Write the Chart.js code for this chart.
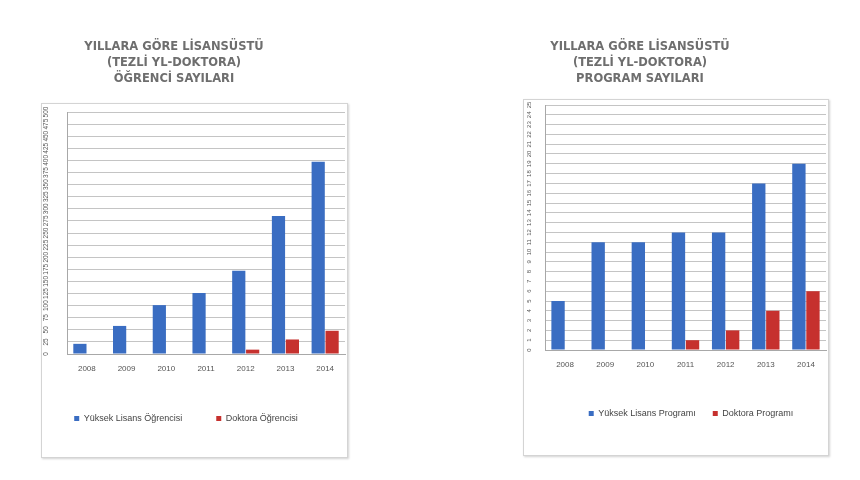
<!DOCTYPE html>
<html>
<head>
<meta charset="utf-8">
<script src="https://cdn.jsdelivr.net/npm/chart.js@4/dist/chart.umd.min.js"></script>
<style>
  body { margin: 0; background: #fff; width: 860px; height: 480px; position: relative; overflow: hidden; }
  .frame { position: absolute; border: 1px solid #d4d4d4; box-shadow: 1px 1px 2px rgba(0,0,0,.18); }
  .wrap { position: absolute; }
</style>
</head>
<body>
<div class="frame" style="left:41px;top:103px;width:305px;height:353px"></div>
<div class="frame" style="left:523px;top:99px;width:304px;height:355px"></div>
<div class="wrap" style="left:30px;top:30px;width:330px;height:440px"><canvas id="ogrenci"></canvas></div>
<div class="wrap" style="left:510px;top:30px;width:340px;height:440px"><canvas id="program"></canvas></div>
<script>
const years = ['2008', '2009', '2010', '2011', '2012', '2013', '2014'];

// öğrenci sayıları
const ogrenciYL = [21, 58, 101, 126, 172, 285, 397];
const ogrenciDr = [0, 0, 0, 0, 9, 30, 48];

// program sayıları
const programYL = [5, 11, 11, 12, 12, 17, 19];
const programDr = [0, 0, 0, 1, 2, 4, 6];

const blue = '#3a6dc2';
const red = '#c6312e';

// move title and legend so they sit where the original ones do
const boxShift = {
    id: 'boxShift',
    afterLayout(chart, args, opts) {
        [[chart.titleBlock, opts.title], [chart.legend, opts.legend]].forEach(([b, c]) => {
            if (!b || c == null) return;
            const d = c - (b.left + b.right) / 2;
            b.left += d;
            b.right += d;
        });
    }
};

function makeChart(id, o) {
    return new Chart(document.getElementById(id), {
        type: 'bar',
        data: {
            labels: years,
            datasets: [
                { label: o.names[0], data: o.yl, backgroundColor: blue, borderWidth: 0 },
                { label: o.names[1], data: o.dr, backgroundColor: red, borderWidth: 0 }
            ]
        },
        options: {
            responsive: true,
            maintainAspectRatio: false,
            animation: false,
            categoryPercentage: 0.7,
            barPercentage: 0.95,
            layout: { padding: o.pad },
            plugins: {
                tooltip: { enabled: false },
                boxShift: { title: o.titleCenter, legend: o.legendCenter },
                title: {
                    display: true,
                    text: o.title,
                    color: '#6e6e6e',
                    font: { family: 'DejaVu Sans', size: 11.5, weight: 'bold', lineHeight: '16px' },
                    padding: { top: 9, bottom: o.titleGap }
                },
                legend: {
                    position: 'bottom',
                    labels: {
                        boxWidth: 5,
                        boxHeight: 5,
                        padding: o.legendPad,
                        color: '#444',
                        font: { family: 'Liberation Sans', size: 9 }
                    }
                }
            },
            scales: {
                x: {
                    grid: { display: false, drawTicks: false },
                    border: { display: true, color: '#a8a8a8' },
                    ticks: { color: '#555', padding: 10, font: { family: 'Liberation Sans', size: 8 } },
                    afterFit(scale) { scale.height = o.xHeight; }
                },
                y: {
                    min: 0,
                    max: o.max,
                    grid: { color: '#c4c4c4', lineWidth: 1, drawTicks: false },
                    border: { display: true, color: '#a8a8a8' },
                    ticks: {
                        stepSize: o.step,
                        autoSkip: false,
                        color: '#555',
                        padding: o.tickPad,
                        crossAlign: 'center',
                        minRotation: 90,
                        maxRotation: 90,
                        font: { family: 'Liberation Sans', size: o.tickSize }
                    },
                    afterFit(scale) { scale.width = o.yWidth; }
                }
            }
        },
        plugins: [boxShift]
    });
}

makeChart('ogrenci', {
    names: ['Yüksek Lisans Öğrencisi', 'Doktora Öğrencisi'],
    title: ['YILLARA GÖRE LİSANSÜSTÜ', '(TEZLİ YL-DOKTORA)', 'ÖĞRENCİ SAYILARI'],
    yl: ogrenciYL, dr: ogrenciDr,
    max: 500, step: 25, tickSize: 6.5, tickPad: 15,
    pad: { left: 10, right: 15, top: 0, bottom: 37 },
    titleGap: 25, titleCenter: 144,
    legendPad: 34, legendCenter: 156,
    xHeight: 26, yWidth: 27
});

makeChart('program', {
    names: ['Yüksek Lisans Programı', 'Doktora Programı'],
    title: ['YILLARA GÖRE LİSANSÜSTÜ', '(TEZLİ YL-DOKTORA)', 'PROGRAM SAYILARI'],
    yl: programYL, dr: programDr,
    max: 25, step: 1, tickSize: 6, tickPad: 12,
    pad: { left: 12, right: 24, top: 0, bottom: 42 },
    titleGap: 18, titleCenter: 130,
    legendPad: 17, legendCenter: 181,
    xHeight: 42, yWidth: 23
});
</script>
</body>
</html>
